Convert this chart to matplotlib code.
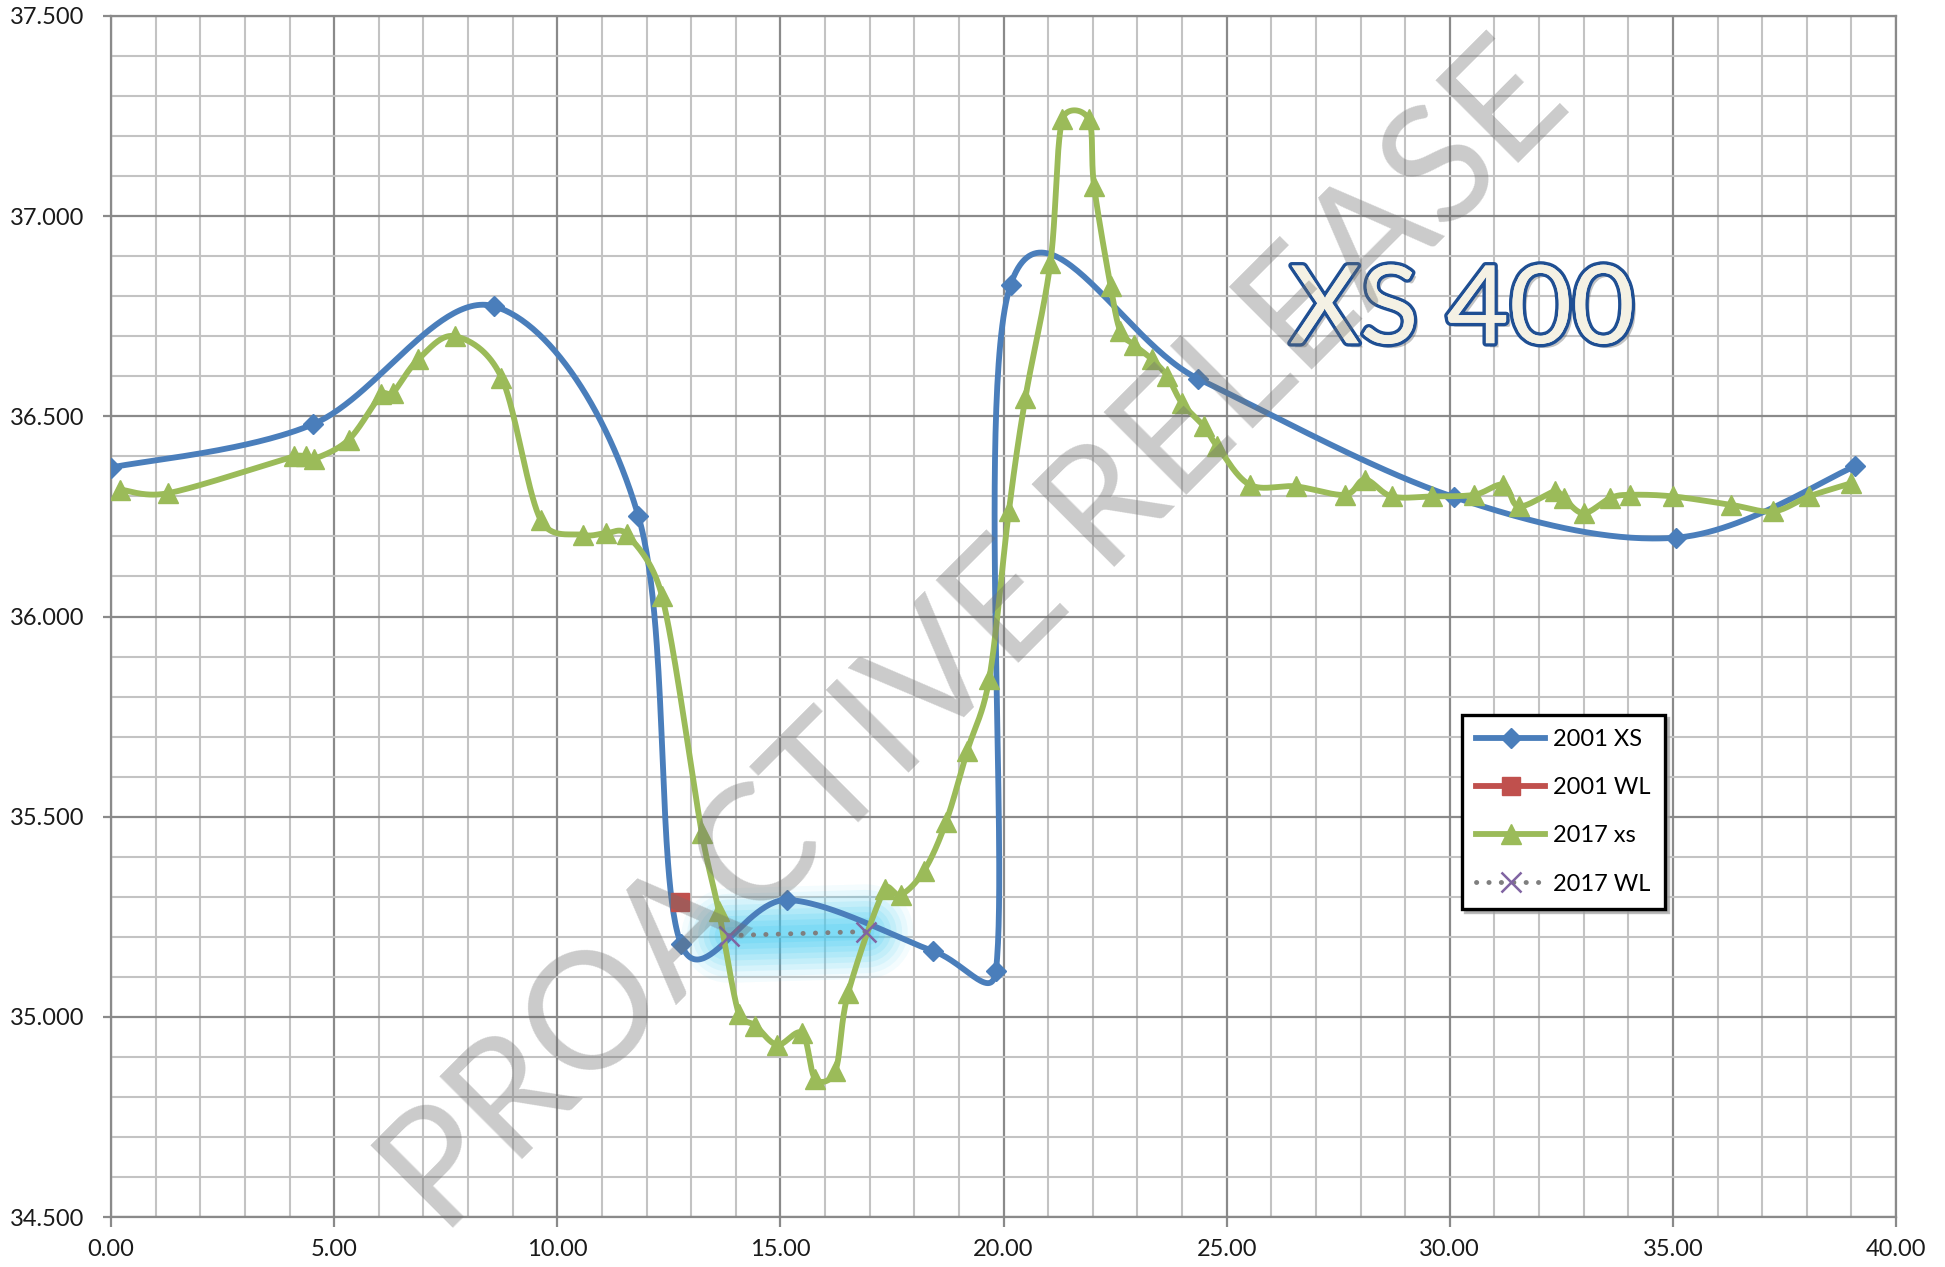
import numpy as np
import matplotlib
matplotlib.use("Agg")
import matplotlib.pyplot as plt
from matplotlib.ticker import MultipleLocator, FormatStrFormatter
from matplotlib.lines import Line2D
import matplotlib.patheffects as pe

# ---------------- data ----------------
xs2001_x = [0.0, 4.52, 8.58, 11.82, 12.77, 15.15, 18.41, 19.83, 20.16, 24.36, 30.1, 35.08, 39.08]
xs2001_y = [36.372, 36.48, 36.775, 36.25, 35.183, 35.292, 35.165, 35.115, 36.829, 36.594, 36.298, 36.197, 36.375]

wl2001_x = [12.76]
wl2001_y = [35.287]

xs2017_x = [0.21, 1.28, 4.11, 4.37, 4.56, 5.33, 6.06, 6.31, 6.89, 7.71, 8.75, 9.63, 10.57, 11.09, 11.56,
            12.35, 13.24, 13.62, 14.07, 14.44, 14.93, 15.49, 15.78, 16.23, 16.52, 17.34, 17.70, 18.22,
            18.71, 19.19, 19.68, 20.12, 20.49, 21.05, 21.32, 21.91, 22.03, 22.40, 22.62, 22.92, 23.33,
            23.67, 24.0, 24.49, 24.79, 25.52, 26.55, 27.65, 28.1, 28.7, 29.6, 30.55, 31.2, 31.55, 32.35,
            32.55, 33.0, 33.6, 34.05, 35.0, 36.3, 37.25, 38.05, 39.0]
xs2017_y = [36.317, 36.308, 36.40, 36.40, 36.394, 36.442, 36.555, 36.558, 36.643, 36.70, 36.597, 36.241,
            36.204, 36.208, 36.205, 36.05, 35.459, 35.264, 35.007, 34.978, 34.93, 34.959, 34.845, 34.864,
            35.06, 35.32, 35.305, 35.365, 35.486, 35.665, 35.844, 36.263, 36.546, 36.883, 37.242, 37.242,
            37.075, 36.825, 36.712, 36.679, 36.642, 36.60, 36.533, 36.475, 36.425, 36.329, 36.325, 36.304,
            36.342, 36.30, 36.30, 36.304, 36.329, 36.275, 36.3125, 36.296, 36.258, 36.296, 36.304, 36.30,
            36.279, 36.2625, 36.30, 36.333]

wl2017_x = [13.84, 16.92]
wl2017_y = [35.203, 35.213]

series_labels = ["2001 XS", "2001 WL", "2017 xs", "2017 WL"]
x_ticks = [0, 5, 10, 15, 20, 25, 30, 35, 40]
y_ticks = [34.5, 35.0, 35.5, 36.0, 36.5, 37.0, 37.5]
watermark = "PROACTIVE RELEASE"
title_tag = "XS 400"

# ---------------- style ----------------
BLUE = "#4a7ebb"
RED = "#c0504d"
GREEN = "#9bbb59"
GRAY = "#7f7f7f"
PURPLE = "#8064a2"
LW = 4.2

plt.rcParams["font.family"] = ["Lato", "DejaVu Sans"]

W, H = 1945, 1267
fig = plt.figure(figsize=(W / 100, H / 100), dpi=100)
fig.patch.set_facecolor("white")
ax = fig.add_axes([111 / W, 1 - 1217 / H, (1896 - 111) / W, (1217 - 16) / H])
ax.set_xlim(0, 40)
ax.set_ylim(34.5, 37.5)

ax.xaxis.set_minor_locator(MultipleLocator(1))
ax.yaxis.set_minor_locator(MultipleLocator(0.1))
ax.set_xticks(x_ticks)
ax.set_yticks(y_ticks)
ax.xaxis.set_major_formatter(FormatStrFormatter("%.2f"))
ax.yaxis.set_major_formatter(FormatStrFormatter("%.3f"))
ax.grid(which="minor", color="#c3c3c3", lw=1.5)
ax.grid(which="major", color="#8a8a8a", lw=1.6)
ax.set_axisbelow(True)
ax.tick_params(which="minor", length=0)
ax.tick_params(axis="x", which="major", direction="out", length=7, width=1.6, color="#8a8a8a",
               labelsize=17, pad=9, labelcolor="#1a1a1a")
ax.tick_params(axis="y", which="major", direction="out", length=6, width=1.6, color="#8a8a8a",
               labelsize=17, pad=13, labelcolor="#1a1a1a")
for s in ax.spines.values():
    s.set_color("#8a8a8a")
    s.set_linewidth(1.6)


def excel_smooth(xv, yv, n=60, cap=0.5):
    pts = ax.transData.transform(np.column_stack([xv, yv]))
    N = len(pts)
    out = [pts[0]]
    t = np.linspace(0, 1, n)[1:][:, None]
    for i in range(N - 1):
        p0 = pts[i - 1] if i > 0 else pts[i]
        p1 = pts[i]
        p2 = pts[i + 1]
        p3 = pts[i + 2] if i + 2 < N else pts[i + 1]
        d12 = np.linalg.norm(p2 - p1)
        d02 = np.linalg.norm(p2 - p0)
        d13 = np.linalg.norm(p3 - p1)
        f = g = 1 / 6
        if d02 > 0 and d02 / 6 >= d12 * cap:
            f = d12 * cap / d02
        if d13 > 0 and d13 / 6 >= d12 * cap:
            g = d12 * cap / d13
        c1 = p1 + f * (p2 - p0)
        c2 = p2 - g * (p3 - p1)
        b = ((1 - t) ** 3) * p1 + 3 * ((1 - t) ** 2) * t * c1 + 3 * (1 - t) * t ** 2 * c2 + t ** 3 * p2
        out.extend(b)
    out = np.array(out)
    d = ax.transData.inverted().transform(out)
    return d[:, 0], d[:, 1]


# glow behind 2017 WL
for w, a in [(68, 0.06), (60, 0.08), (52, 0.10), (44, 0.12), (36, 0.14), (28, 0.16), (20, 0.18), (12, 0.2)]:
    ax.plot(wl2017_x, wl2017_y, color="#45ccf2", lw=w, alpha=a, solid_capstyle="round", zorder=2)

# 2001 XS
sx, sy = excel_smooth(xs2001_x, xs2001_y)
ax.plot(sx, sy, color=BLUE, lw=LW, zorder=3, solid_joinstyle="round")
ax.plot(xs2001_x, xs2001_y, ls="none", marker="D", ms=10.5, color=BLUE, zorder=3)

# 2001 WL
ax.plot(wl2001_x, wl2001_y, ls="none", marker="s", ms=13.5, color=RED, zorder=4)

# 2017 xs
gx, gy = excel_smooth(xs2017_x, xs2017_y)
ax.plot(gx, gy, color=GREEN, lw=LW, zorder=5, solid_joinstyle="round")
ax.plot(xs2017_x, xs2017_y, ls="none", marker="^", ms=14, color=GREEN, zorder=5)

# 2017 WL
ax.plot(wl2017_x, wl2017_y, color=GRAY, lw=3.5, ls=(0, (0.05, 2.5)), dash_capstyle="round", zorder=6)
ax.plot(wl2017_x, wl2017_y, ls="none", marker="x", ms=15, mew=1.8, color=PURPLE, zorder=7)

# XS 400 label
ax.text(0.757, 0.753, title_tag, transform=ax.transAxes, ha="center", va="center",
        fontsize=78, color="#f4f1e4", zorder=8,
        path_effects=[pe.SimplePatchShadow(offset=(3, -3), alpha=0.35, shadow_rgbFace="#555555"),
                      pe.withStroke(linewidth=5, foreground="#1f4f93"),
                      pe.Normal()])

# legend
handles = [
    Line2D([], [], color=BLUE, lw=LW, marker="D", ms=10.5),
    Line2D([], [], color=RED, lw=LW, marker="s", ms=13.5),
    Line2D([], [], color=GREEN, lw=LW, marker="^", ms=14),
    Line2D([], [], color=GRAY, lw=3.5, ls=(0, (0.05, 2.5)), dash_capstyle="round",
           marker="x", ms=15, mew=1.8, mec=PURPLE),
]
leg = ax.legend(handles, series_labels, loc="upper left", bbox_to_anchor=(0.757, 0.418),
                borderaxespad=0, fontsize=17, frameon=True, fancybox=False, framealpha=1,
                edgecolor="black", handlelength=2.9, handletextpad=0.35, labelspacing=1.15,
                borderpad=0.6, numpoints=1, shadow={"color": "#a0a0a0", "alpha": 0.7})
leg.get_frame().set_linewidth(2.4)
leg.set_zorder(9)

# watermark
fig.text(976 / W, 1 - 640 / H, watermark, rotation=45, rotation_mode="anchor",
         ha="center", va="center", fontsize=117, fontweight="normal",
         color="#6e6e6e", alpha=0.36, zorder=20)

fig.savefig("out.png", dpi=100)
